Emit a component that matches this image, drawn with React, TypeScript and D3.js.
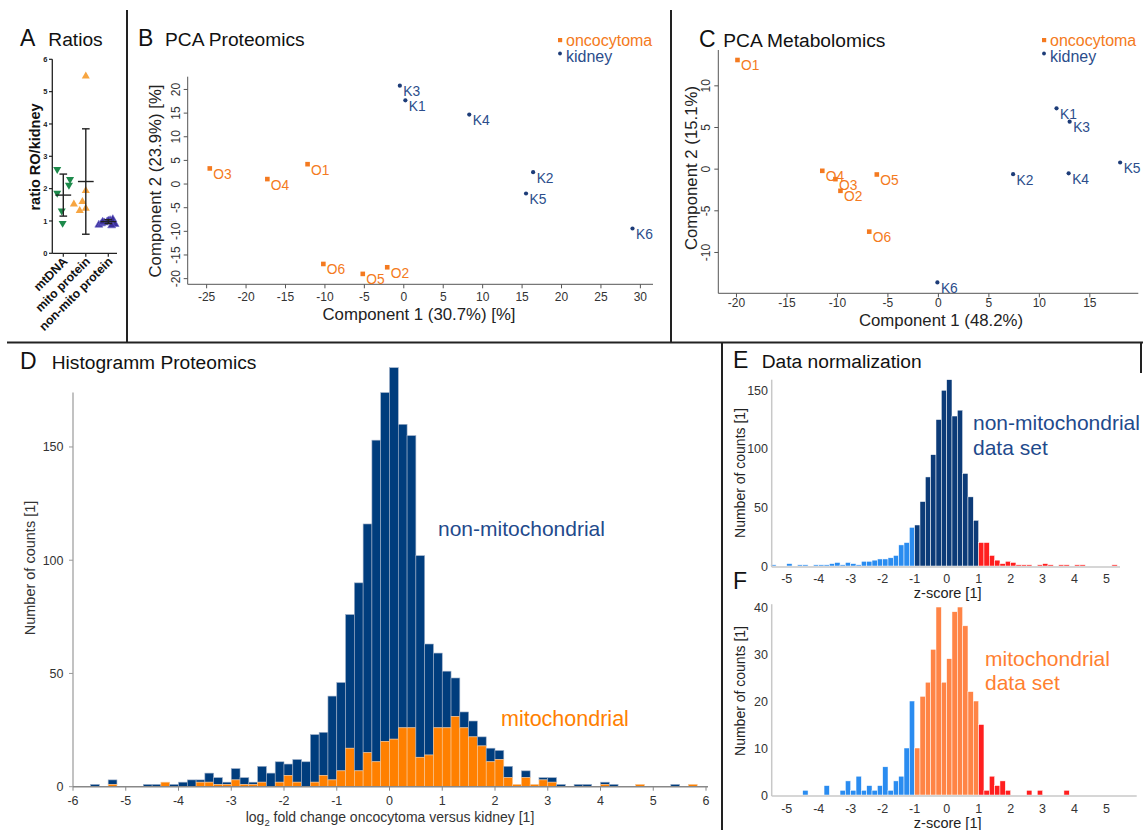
import React from "react";
import * as d3 from "d3";

const FONT = "'Liberation Sans', Arial, Helvetica, sans-serif";

// ---------------- Panel A: Ratios ----------------
const A_CATEGORIES = ["mtDNA", "mito protein", "non-mito protein"];
const A_Y_TICKS = [0, 1, 2, 3, 4, 5, 6];
const A_MTDNA = [2.6, 2.29, 2.11, 1.86, 1.31, 0.93];
const A_MTDNA_JITTER = [-0.27, 0.3, 0.25, -0.27, -0.07, -0.03];
const A_MITO = [5.48, 1.52, 1.94, 1.6, 1.32, 1.39];
const A_MITO_JITTER = [0, -0.53, 0, -0.15, -0.27, 0];
const A_NONMITO = [0.88, 0.92, 0.95, 0.98, 1.02, 1.05, 0.9, 0.97, 1.0, 0.86];
const A_NONMITO_JITTER = [-0.42, -0.3, -0.18, -0.05, 0.08, 0.2, 0.3, -0.25, 0.0, 0.15];
const A_MEANS = [1.8, 2.22, 0.98];
const A_SDS = [0.65, 1.63, 0.06];

// ---------------- Panel B: PCA Proteomics ----------------
const B_ONCO_LABELS = ["O1", "O2", "O3", "O4", "O5", "O6"];
const B_ONCO_X = [-12.2, -2.1, -24.6, -17.3, -5.2, -10.2];
const B_ONCO_Y = [4.2, -17.6, 3.3, 1.05, -19.0, -16.9];
const B_KID_LABELS = ["K1", "K2", "K3", "K4", "K5", "K6"];
const B_KID_X = [0.2, 16.4, -0.5, 8.3, 15.5, 29.0];
const B_KID_Y = [17.7, 2.5, 20.8, 14.7, -2.0, -9.4];
const B_X_TICKS = [-25, -20, -15, -10, -5, 0, 5, 10, 15, 20, 25, 30];
const B_Y_TICKS = [-20, -15, -10, -5, 0, 5, 10, 15, 20];

// ---------------- Panel C: PCA Metabolomics ----------------
const C_ONCO_LABELS = ["O1", "O2", "O3", "O4", "O5", "O6"];
const C_ONCO_X = [-19.9, -9.7, -10.2, -11.5, -6.1, -6.85];
const C_ONCO_Y = [13.1, -2.6, -1.2, -0.2, -0.64, -7.5];
const C_KID_LABELS = ["K1", "K2", "K3", "K4", "K5", "K6"];
const C_KID_X = [11.7, 7.4, 13.0, 12.9, 18.0, -0.1];
const C_KID_Y = [7.3, -0.6, 5.7, -0.5, 0.8, -13.6];
const C_X_TICKS = [-20, -15, -10, -5, 0, 5, 10, 15];
const C_Y_TICKS = [-10, -5, 0, 5, 10];

// ---------------- Panel D: Histogram proteomics (bins of 1/6, from -6 to 6) ----------------
const D_BIN_START = -6;
const D_BIN_WIDTH = 1 / 6;
const D_MITO = [
  0, 0, 0, 0, 1, 0, 0, 0, 0, 0,
  2, 0, 0, 0, 2, 2, 1, 1, 3, 1,
  1, 2, 0, 2, 5, 2, 0, 2, 5, 3,
  7, 17, 7, 15, 11, 20, 21, 26, 26, 13,
  14, 26, 26, 31, 26, 22, 18, 11, 12, 4,
  1, 4, 1, 3, 2, 0, 0, 0, 0, 0,
  1, 0, 0, 0, 1, 0, 0, 0, 0, 0, 1, 0,
];
const D_NONMITO = [
  0, 0, 1, 0, 2, 0, 0, 0, 1, 1,
  0, 1, 2, 3, 1, 4, 3, 1, 5, 3,
  1, 7, 6, 9, 5, 10, 11, 21, 19, 37,
  39, 59, 83, 101, 142, 154, 164, 134, 129, 89,
  49, 33, 25, 17, 7, 7, 4, 6, 4, 5,
  0, 3, 0, 1, 2, 1, 0, 1, 1, 0,
  1, 1, 0, 0, 0, 0, 0, 0, 1, 0, 0, 0,
];
const D_X_TICKS = [-6, -5, -4, -3, -2, -1, 0, 1, 2, 3, 4, 5, 6];
const D_Y_TICKS = [0, 50, 100, 150];

// ---------------- Panels E / F: z-score histograms (bins of 1/6, from -5.5) ----------------
const Z_BIN_START = -5.5;
const Z_BIN_WIDTH = 1 / 6;
const E_COUNTS = [
  1, 0, 0, 2, 0, 1, 1, 0, 1, 1,
  1, 2, 3, 1, 3, 2, 1, 4, 4, 5,
  6, 6, 7, 9, 18, 20, 33, 35, 55, 76,
  95, 125, 150, 159, 128, 133, 79, 59, 39, 20,
  20, 9, 5, 2, 4, 3, 1, 1, 1, 0,
  1, 2, 1, 0, 1, 1, 0, 1, 1, 0,
  0, 0, 0, 0, 1,
];
const F_COUNTS = [
  0, 0, 0, 0, 0, 0, 1, 0, 0, 0,
  2, 0, 0, 1, 3, 1, 4, 1, 2, 1,
  2, 6, 1, 3, 4, 10, 20, 10, 21, 24,
  31, 40, 24, 29, 39, 40, 36, 22, 20, 15,
  1, 4, 2, 3, 1, 0, 0, 0, 1, 0,
  1, 0, 0, 0, 0, 1, 0, 0, 0, 0,
  0, 0, 0, 0, 0,
];
const Z_X_TICKS = [-5, -4, -3, -2, -1, 0, 1, 2, 3, 4, 5];
const E_Y_TICKS = [0, 50, 100, 150];
const F_Y_TICKS = [0, 10, 20, 30, 40];
const Z_LOW = -1;
const Z_HIGH = 1;

// colours
const PCA_ORANGE = "#f47a20";
const PCA_NAVY = "#1d3c78";
const PCA_NAVY_TEXT = "#2b4d8b";
const D_NAVY = "#003d7d";
const D_ORANGE = "#ff8000";
const E_NAVY = "#0c3b78";
const Z_LIGHT = "#2a8cf0";
const Z_RED = "#ff1f1f";
const F_ORANGE = "#ff8446";
const TICK = "#333";

function Title({ x, tx, y, letter, text }: { x: number; tx: number; y: number; letter: string; text: string }) {
  return (
    <g fontFamily={FONT} fill="#111">
      <text x={x} y={y} fontSize={23}>{letter}</text>
      <text x={tx} y={y} fontSize={19.2}>{text}</text>
    </g>
  );
}

function PcaPanel(props: {
  xs: d3.ScaleLinear<number, number>;
  ys: d3.ScaleLinear<number, number>;
  xTicks: number[];
  yTicks: number[];
  oLab: string[]; oX: number[]; oY: number[];
  kLab: string[]; kX: number[]; kY: number[];
  xTitle: string; yTitle: string;
  xTickBase: number; yTickBase: number; xTitleBase: number; yTitleX: number;
  xTitleCenter: number; yTitleCenter: number;
  legendX: number;
}) {
  const { xs, ys } = props;
  const [x0, x1] = xs.range();
  const [y0, y1] = ys.range();
  return (
    <g fontFamily={FONT}>
      <line x1={x0} x2={x0} y1={y1} y2={y0} stroke="#555" strokeWidth={1} />
      <line x1={x0} x2={x1} y1={y0} y2={y0} stroke="#555" strokeWidth={1} />
      {props.xTicks.map((t) => (
        <g key={"xt" + t}>
          <line x1={xs(t)} x2={xs(t)} y1={y0} y2={y0 + 4} stroke="#555" />
          <text x={xs(t)} y={props.xTickBase} fontSize={12} fill={TICK} textAnchor="middle">{t}</text>
        </g>
      ))}
      {props.yTicks.map((t) => (
        <g key={"yt" + t}>
          <line x1={x0 - 4} x2={x0} y1={ys(t)} y2={ys(t)} stroke="#555" />
          <text transform={`translate(${props.yTickBase},${ys(t)}) rotate(-90)`} fontSize={12} fill={TICK} textAnchor="middle">{t}</text>
        </g>
      ))}
      <text x={props.xTitleCenter} y={props.xTitleBase} fontSize={16.8} fill="#222" textAnchor="middle">{props.xTitle}</text>
      <text transform={`translate(${props.yTitleX},${props.yTitleCenter}) rotate(-90)`} fontSize={16.8} fill="#222" textAnchor="middle">{props.yTitle}</text>
      {props.oX.map((v, i) => (
        <g key={"o" + i}>
          <rect x={xs(v) - 2.3} y={ys(props.oY[i]) - 2.3} width={4.6} height={4.6} fill={PCA_ORANGE} />
          <text x={xs(v) + 3.5} y={ys(props.oY[i]) + 10.5} fontSize={13.8} fill={PCA_ORANGE}>{props.oLab[i]}</text>
        </g>
      ))}
      {props.kX.map((v, i) => (
        <g key={"k" + i}>
          <circle cx={xs(v)} cy={ys(props.kY[i])} r={2.1} fill={PCA_NAVY} />
          <text x={xs(v) + 3.5} y={ys(props.kY[i]) + 10.5} fontSize={13.8} fill={PCA_NAVY_TEXT}>{props.kLab[i]}</text>
        </g>
      ))}
      <rect x={props.legendX - 2} y={38} width={4.2} height={4.2} fill={PCA_ORANGE} />
      <text x={props.legendX + 6} y={45.5} fontSize={16} fill={PCA_ORANGE}>oncocytoma</text>
      <circle cx={props.legendX} cy={53.5} r={1.9} fill={PCA_NAVY} />
      <text x={props.legendX + 6} y={62} fontSize={16} fill={PCA_NAVY_TEXT}>kidney</text>
    </g>
  );
}

function ZPanel(props: {
  counts: number[];
  mainColor: string;
  xs: d3.ScaleLinear<number, number>;
  ys: d3.ScaleLinear<number, number>;
  yTicks: number[];
  axisEnd: number;
  tickBase: number;
  titleBase: number;
  yTitleCenter: number;
}) {
  const { xs, ys } = props;
  const base = ys(0);
  const top = ys.range()[1];
  return (
    <g fontFamily={FONT}>
      {props.counts.map((c, i) => {
        if (c <= 0) return null;
        const a = Z_BIN_START + i * Z_BIN_WIDTH;
        const b = a + Z_BIN_WIDTH;
        const mid = (a + b) / 2;
        const col = mid < Z_LOW ? Z_LIGHT : mid > Z_HIGH ? Z_RED : props.mainColor;
        return (
          <rect key={i} x={xs(a)} y={ys(c)} width={xs(b) - xs(a)} height={base - ys(c)} fill={col} stroke="#fff" strokeWidth={0.5} />
        );
      })}
      <line x1={xs.range()[0]} x2={xs.range()[0]} y1={top} y2={base + 1} stroke="#c8c8c8" strokeWidth={1.5} />
      <line x1={xs.range()[0]} x2={props.axisEnd} y1={base + 1} y2={base + 1} stroke="#c8c8c8" strokeWidth={1.5} />
      {props.yTicks.map((t) => (
        <text key={t} x={768} y={ys(t) + 4.5} fontSize={12.5} fill={TICK} textAnchor="end">{t}</text>
      ))}
      {Z_X_TICKS.map((t) => (
        <text key={t} x={xs(t)} y={props.tickBase} fontSize={12.5} fill={TICK} textAnchor="middle">{t}</text>
      ))}
      <text x={xs(0) + 1} y={props.titleBase} fontSize={14.5} fill="#222" textAnchor="middle">z-score [1]</text>
      <text transform={`translate(745,${props.yTitleCenter}) rotate(-90)`} fontSize={14} fill="#222" textAnchor="middle">Number of counts [1]</text>
    </g>
  );
}

export default function App() {
  // ----- A -----
  const xA = d3.scaleLinear().domain([0, 2]).range([63.3, 108.3]);
  const yA = d3.scaleLinear().domain([0, 6]).range([253.3, 59.3]);
  const step = xA(1) - xA(0);
  const tri = d3.symbol().type(d3.symbolTriangle).size(28)() as string;
  const aSeries = [
    { vals: A_MTDNA, jit: A_MTDNA_JITTER, color: "#1d8a4b", down: true },
    { vals: A_MITO, jit: A_MITO_JITTER, color: "#f7a541", down: false },
    { vals: A_NONMITO, jit: A_NONMITO_JITTER, color: "#3a2e9c", down: false },
  ];

  // ----- B / C -----
  const xB = d3.scaleLinear().domain([-27.4, 31.6]).range([187.7, 653]);
  const yB = d3.scaleLinear().domain([-21.2, 22.7]).range([284.3, 76.7]);
  const xC = d3.scaleLinear().domain([-21.8, 19.8]).range([718.3, 1138.3]);
  const yC = d3.scaleLinear().domain([-14.9, 14.3]).range([293.3, 50]);

  // ----- D -----
  const xD = d3.scaleLinear().domain([-6, 6]).range([73, 706]);
  const yD = d3.scaleLinear().domain([0, 174]).range([786.7, 392.6]);

  // ----- E / F -----
  const xZ = d3.scaleLinear().domain([-5.47, 5.42]).range([771.7, 1120]);
  const yE = d3.scaleLinear().domain([0, 159]).range([566, 379.7]);
  const yF = d3.scaleLinear().domain([0, 40.6]).range([795, 604.2]);

  return (
    <svg width={1143} height={830} style={{ position: "absolute", left: 0, top: 0, background: "#fff" }} fontFamily={FONT}>
      <rect x={0} y={0} width={1143} height={830} fill="#fff" />

      {/* separators */}
      <g stroke="#222" strokeWidth={2}>
        <line x1={127} x2={127} y1={10} y2={342} />
        <line x1={671} x2={671} y1={10} y2={342} />
        <line x1={7} x2={1143} y1={342.5} y2={342.5} />
        <line x1={722} x2={722} y1={342} y2={830} />
        <line x1={1141} x2={1141} y1={342} y2={373} />
      </g>

      {/* ================= A ================= */}
      <Title x={20} tx={48.3} y={46} letter="A" text="Ratios" />
      <g>
        <line x1={52.3} x2={52.3} y1={yA(6)} y2={yA(0)} stroke="#222" strokeWidth={1.3} />
        <line x1={52.3} x2={117} y1={yA(0)} y2={yA(0)} stroke="#222" strokeWidth={1.3} />
        {A_Y_TICKS.map((t) => (
          <g key={t}>
            <line x1={49} x2={52.3} y1={yA(t)} y2={yA(t)} stroke="#222" strokeWidth={1.2} />
            <text x={47.5} y={yA(t) + 2.6} fontSize={7.5} fontWeight="bold" textAnchor="end" fill="#222">{t}</text>
          </g>
        ))}
        {A_CATEGORIES.map((c, i) => (
          <g key={c}>
            <line x1={xA(i)} x2={xA(i)} y1={yA(0)} y2={yA(0) + 3.5} stroke="#222" strokeWidth={1.2} />
            <text transform={`translate(${xA(i) + 5},${yA(0) + 9}) rotate(-45)`} fontSize={12.3} fontWeight="bold" textAnchor="end" fill="#111">{c}</text>
          </g>
        ))}
        <text transform={`translate(40,157) rotate(-90)`} fontSize={14.5} fontWeight="bold" textAnchor="middle" fill="#111">ratio RO/kidney</text>
        {aSeries.map((s, si) =>
          s.vals.map((v, i) => (
            <path key={si + "-" + i} d={tri} transform={`translate(${xA(si + s.jit[i])},${yA(v)}) rotate(${s.down ? 180 : 0})`} fill={s.color} stroke={si === 2 ? "#6a63c8" : "none"} strokeWidth={0.6} />
          ))
        )}
        {A_MEANS.map((m, i) => {
          const cx = xA(i);
          return (
            <g key={"m" + i} stroke="#222" strokeWidth={1.4}>
              <line x1={cx} x2={cx} y1={yA(m + A_SDS[i])} y2={yA(m - A_SDS[i])} />
              <line x1={cx - step * 0.35} x2={cx + step * 0.35} y1={yA(m)} y2={yA(m)} />
              <line x1={cx - step * 0.17} x2={cx + step * 0.17} y1={yA(m + A_SDS[i])} y2={yA(m + A_SDS[i])} />
              <line x1={cx - step * 0.17} x2={cx + step * 0.17} y1={yA(m - A_SDS[i])} y2={yA(m - A_SDS[i])} />
            </g>
          );
        })}
      </g>

      {/* ================= B ================= */}
      <Title x={138} tx={165} y={46} letter="B" text="PCA Proteomics" />
      <PcaPanel
        xs={xB} ys={yB} xTicks={B_X_TICKS} yTicks={B_Y_TICKS}
        oLab={B_ONCO_LABELS} oX={B_ONCO_X} oY={B_ONCO_Y}
        kLab={B_KID_LABELS} kX={B_KID_X} kY={B_KID_Y}
        xTitle="Component 1 (30.7%) [%]" yTitle="Component 2 (23.9%) [%]"
        xTickBase={301} yTickBase={180} xTitleBase={320} yTitleX={161}
        xTitleCenter={419} yTitleCenter={181}
        legendX={560}
      />

      {/* ================= C ================= */}
      <Title x={699} tx={723.3} y={47} letter="C" text="PCA Metabolomics" />
      <PcaPanel
        xs={xC} ys={yC} xTicks={C_X_TICKS} yTicks={C_Y_TICKS}
        oLab={C_ONCO_LABELS} oX={C_ONCO_X} oY={C_ONCO_Y}
        kLab={C_KID_LABELS} kX={C_KID_X} kY={C_KID_Y}
        xTitle="Component 1 (48.2%)" yTitle="Component 2 (15.1%)"
        xTickBase={307} yTickBase={709.5} xTitleBase={325.5} yTitleX={697}
        xTitleCenter={941} yTitleCenter={168}
        legendX={1044}
      />

      {/* ================= D ================= */}
      <Title x={20} tx={51.7} y={369} letter="D" text="Histogramm Proteomics" />
      <g>
        {D_MITO.map((m, i) => {
          const a = D_BIN_START + i * D_BIN_WIDTH;
          const b = a + D_BIN_WIDTH;
          const n = D_NONMITO[i];
          const w = xD(b) - xD(a);
          return (
            <g key={i}>
              {n > 0 && (
                <rect x={xD(a)} y={yD(m + n)} width={w} height={yD(m) - yD(m + n)} fill={D_NAVY} stroke="#9fb0c8" strokeWidth={0.6} />
              )}
              {m > 0 && (
                <rect x={xD(a)} y={yD(m)} width={w} height={yD(0) - yD(m)} fill={D_ORANGE} stroke="#f5c89a" strokeWidth={0.6} />
              )}
            </g>
          );
        })}
        <line x1={73} x2={73} y1={yD(174)} y2={yD(0)} stroke="#999" strokeWidth={1.2} />
        <line x1={73} x2={708} y1={yD(0)} y2={yD(0)} stroke="#888" strokeWidth={1.4} />
        {D_Y_TICKS.map((t) => (
          <g key={t}>
            <line x1={69} x2={73} y1={yD(t)} y2={yD(t)} stroke="#999" />
            <text x={63.5} y={yD(t) + 4.5} fontSize={12.5} fill={TICK} textAnchor="end">{t}</text>
          </g>
        ))}
        {D_X_TICKS.map((t) => (
          <g key={t}>
            <line x1={xD(t)} x2={xD(t)} y1={yD(0)} y2={yD(0) + 4} stroke="#888" />
            <text x={xD(t)} y={805} fontSize={12.5} fill={TICK} textAnchor="middle">{t}</text>
          </g>
        ))}
        <text x={390} y={822} fontSize={14} fill="#333" textAnchor="middle">
          <tspan>log</tspan>
          <tspan fontSize={9.5} dy={4}>2</tspan>
          <tspan dy={-4}> fold change oncocytoma versus kidney [1]</tspan>
        </text>
        <text transform={`translate(35,568) rotate(-90)`} fontSize={14.5} fill="#333" textAnchor="middle">Number of counts [1]</text>
        <text x={438} y={536} fontSize={21} fill="#1f4a8c">non-mitochondrial</text>
        <text x={501} y={725.5} fontSize={21.5} fill={D_ORANGE}>mitochondrial</text>
      </g>

      {/* ================= E ================= */}
      <Title x={733} tx={761.7} y={368} letter="E" text="Data normalization" />
      <ZPanel counts={E_COUNTS} mainColor={E_NAVY} xs={xZ} ys={yE} yTicks={E_Y_TICKS} axisEnd={1120} tickBase={582.5} titleBase={598} yTitleCenter={473} />
      <text x={973} y={430} fontSize={21} fill="#1f4a8c" fontFamily={FONT}>non-mitochondrial</text>
      <text x={973} y={455} fontSize={21} fill="#1f4a8c" fontFamily={FONT}>data set</text>

      {/* ================= F ================= */}
      <text x={733} y={589} fontSize={23} fill="#111" fontFamily={FONT}>F</text>
      <ZPanel counts={F_COUNTS} mainColor={F_ORANGE} xs={xZ} ys={yF} yTicks={F_Y_TICKS} axisEnd={1136.7} tickBase={812.5} titleBase={827.5} yTitleCenter={691} />
      <text x={985} y={666} fontSize={21} fill="#ff8030" fontFamily={FONT}>mitochondrial</text>
      <text x={985} y={690} fontSize={21} fill="#ff8030" fontFamily={FONT}>data set</text>
    </svg>
  );
}
